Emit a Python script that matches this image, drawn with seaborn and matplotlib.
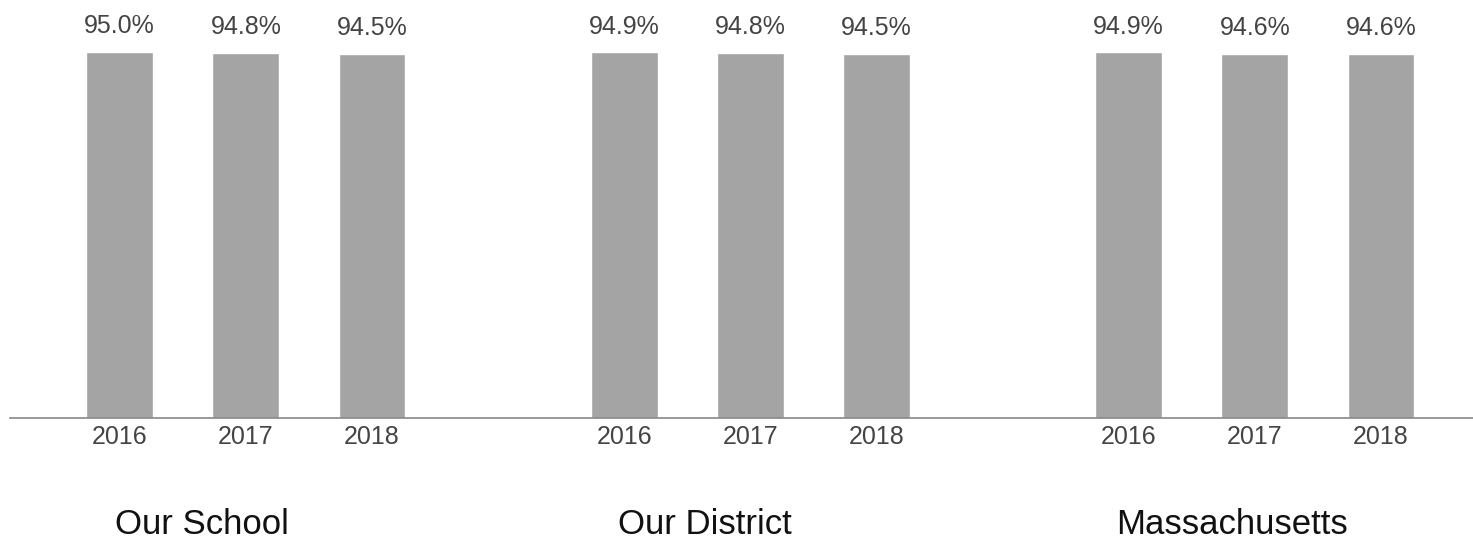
import pandas as pd
import matplotlib.pyplot as plt
import seaborn as sns

# -------------------------------
# Data
# -------------------------------
groups = ["Our School", "Our District", "Massachusetts"]
years = ["2016", "2017", "2018"]
school = [95.0, 94.8, 94.5]
district = [94.9, 94.8, 94.5]
state = [94.9, 94.6, 94.6]

rows = []
for g, vals in enumerate([school, district, state]):
    for i, v in enumerate(vals):
        rows.append({"group": groups[g], "year": years[i], "pos": g * 4 + i, "value": v})
df = pd.DataFrame(rows)

# -------------------------------
# Plot
# -------------------------------
sns.set_theme(style="white")
plt.rcParams["font.family"] = ["Liberation Sans", "DejaVu Sans"]

fig = plt.figure(figsize=(14.73, 5.4), dpi=100)
ax = fig.add_axes([10 / 1473, 122 / 540, 1 - 10 / 1473, 418 / 540])

sns.barplot(data=df, x="pos", y="value", native_scale=True, width=0.53,
            color="#a4a4a4", saturation=1, ax=ax)

ax.bar_label(ax.containers[0], labels=[f"{v:.1f}%" for v in df["value"]],
             padding=10, fontsize=18, color="#444444")

ax.set_xlim(-0.87, 10.73)
ax.set_ylim(0, 108.5)
ax.set_xticks(df["pos"])
ax.set_xticklabels(df["year"], fontsize=18, color="#444444")
ax.tick_params(axis="x", length=0, pad=5)
ax.set_yticks([])
ax.set_xlabel("")
ax.set_ylabel("")

for s in ["top", "left", "right"]:
    ax.spines[s].set_visible(False)
ax.spines["bottom"].set_color("#888888")
ax.spines["bottom"].set_linewidth(1.2)

# group labels under each cluster
label_shift = [-0.35, -0.36, -0.18]
for g, name in enumerate(groups):
    ax.text(g * 4 + 1 + label_shift[g], -0.2775, name, transform=ax.get_xaxis_transform(),
            ha="center", va="baseline", fontsize=25, color="#111111")

fig.savefig("out.png", dpi=100)
